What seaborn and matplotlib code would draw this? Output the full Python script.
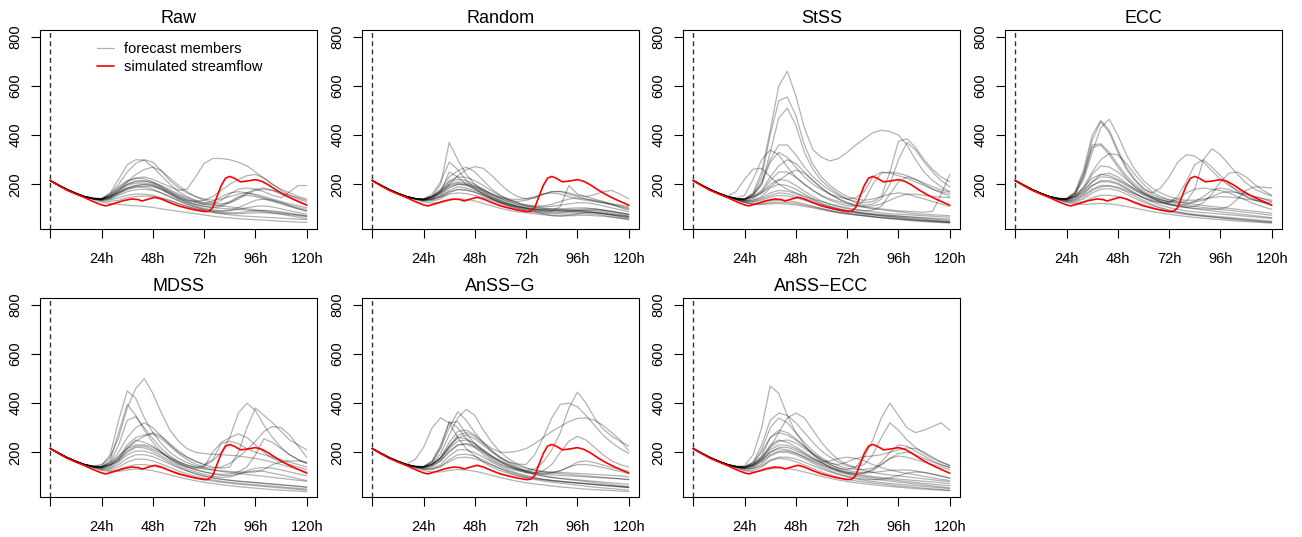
import pandas as pd
import seaborn as sns
import matplotlib.pyplot as plt
from matplotlib.lines import Line2D

# forecast lead time (hours), members sampled every 4 h
hours = list(range(0, 121, 4))

# simulated streamflow (same in every panel)
sim_hours = [0, 4, 8, 12, 16, 20, 24, 26, 30, 34, 38, 41, 43, 46, 49, 52, 56, 60, 64, 68,
             72, 74, 76, 78, 80, 82, 84, 86, 89, 92, 96, 99, 102, 106, 110, 114, 120]
sim_flow = [216, 194, 175, 160, 146, 130, 116, 112, 122, 133, 140, 138, 132, 140, 147, 140, 125, 112, 103, 95,
            89, 90, 105, 150, 195, 225, 232, 225, 210, 213, 219, 212, 198, 175, 155, 138, 115]

raw_members = [
    [215, 196, 178, 163, 150, 142, 140, 165, 220, 280, 300, 298, 270, 235, 200, 170, 150, 135, 125, 118, 112, 108, 104, 100, 96, 92, 88, 84, 80, 76, 72],
    [215, 196, 178, 163, 151, 144, 142, 160, 200, 250, 285, 300, 290, 255, 215, 185, 165, 150, 140, 135, 140, 150, 160, 165, 160, 150, 140, 130, 120, 112, 105],
    [215, 196, 178, 163, 150, 143, 140, 155, 185, 210, 225, 230, 220, 205, 190, 175, 180, 230, 285, 305, 305, 300, 290, 275, 250, 225, 200, 180, 165, 150, 140],
    [215, 196, 178, 163, 150, 143, 140, 150, 175, 210, 240, 260, 270, 255, 225, 195, 170, 150, 135, 125, 120, 125, 140, 160, 175, 180, 175, 165, 155, 145, 135],
    [215, 196, 178, 163, 150, 142, 138, 148, 170, 195, 205, 205, 200, 185, 165, 145, 130, 118, 110, 105, 110, 125, 145, 165, 180, 185, 175, 160, 145, 130, 118],
    [215, 196, 178, 163, 150, 142, 137, 145, 165, 185, 195, 200, 195, 180, 160, 140, 125, 112, 102, 96, 92, 95, 105, 120, 135, 140, 135, 125, 112, 100, 90],
    [215, 196, 178, 163, 150, 142, 136, 142, 160, 180, 190, 188, 180, 165, 148, 132, 118, 106, 96, 90, 86, 84, 85, 88, 92, 94, 92, 88, 82, 76, 70],
    [215, 196, 178, 163, 149, 138, 128, 122, 118, 115, 112, 110, 106, 100, 95, 90, 85, 80, 75, 70, 66, 63, 60, 58, 56, 54, 52, 50, 48, 46, 45],
    [215, 196, 178, 163, 150, 140, 132, 130, 135, 145, 150, 152, 150, 142, 132, 120, 110, 100, 92, 86, 80, 76, 72, 70, 68, 66, 64, 62, 60, 58, 56],
    [215, 196, 178, 163, 150, 142, 138, 150, 175, 200, 215, 215, 205, 190, 172, 155, 140, 128, 118, 112, 115, 130, 150, 155, 150, 140, 130, 120, 110, 100, 92],
    [215, 196, 178, 163, 150, 143, 142, 160, 190, 215, 225, 222, 210, 190, 170, 150, 135, 125, 118, 120, 135, 160, 180, 185, 180, 170, 155, 145, 170, 195, 195],
    [215, 196, 178, 163, 150, 141, 135, 140, 155, 170, 178, 180, 175, 165, 150, 135, 120, 108, 98, 92, 90, 92, 98, 105, 110, 112, 108, 100, 92, 85, 78],
    [215, 196, 178, 163, 150, 142, 140, 148, 165, 180, 188, 192, 190, 178, 160, 142, 128, 118, 110, 105, 102, 100, 98, 95, 92, 88, 84, 80, 76, 72, 68],
    [215, 196, 178, 163, 150, 142, 140, 155, 180, 200, 210, 212, 208, 195, 178, 160, 145, 132, 122, 130, 150, 165, 170, 165, 155, 145, 135, 125, 115, 105, 98],
    [215, 196, 178, 163, 150, 142, 139, 148, 168, 185, 195, 198, 195, 182, 165, 148, 135, 130, 135, 150, 175, 200, 220, 235, 240, 225, 200, 175, 155, 140, 128],
    [215, 196, 178, 163, 150, 141, 135, 136, 145, 155, 160, 160, 155, 145, 135, 122, 110, 100, 92, 86, 82, 80, 80, 82, 84, 84, 82, 78, 72, 66, 60],
]

random_members = [
    [215, 196, 178, 163, 150, 142, 138, 150, 200, 370, 300, 240, 200, 170, 150, 135, 122, 112, 105, 100, 97, 95, 93, 90, 88, 86, 84, 80, 76, 72, 68],
    [215, 196, 178, 163, 150, 142, 140, 160, 210, 290, 260, 215, 185, 160, 140, 125, 115, 108, 102, 98, 96, 95, 95, 96, 98, 100, 100, 96, 90, 84, 78],
    [215, 196, 178, 163, 150, 142, 138, 150, 180, 230, 255, 270, 250, 215, 180, 155, 138, 125, 115, 110, 108, 110, 115, 120, 125, 125, 120, 112, 104, 96, 88],
    [215, 196, 178, 163, 150, 142, 137, 145, 165, 200, 235, 260, 272, 265, 235, 200, 170, 150, 140, 145, 160, 170, 170, 160, 150, 140, 135, 128, 120, 112, 104],
    [215, 196, 178, 163, 150, 141, 135, 142, 170, 250, 230, 200, 180, 160, 142, 128, 118, 110, 104, 98, 95, 93, 92, 92, 93, 94, 92, 88, 82, 76, 70],
    [215, 196, 178, 163, 150, 142, 138, 148, 172, 210, 220, 215, 200, 180, 160, 145, 135, 130, 135, 145, 160, 170, 172, 165, 155, 150, 158, 170, 175, 160, 140],
    [215, 196, 178, 163, 150, 141, 136, 140, 155, 185, 200, 195, 182, 165, 148, 133, 120, 110, 102, 96, 92, 90, 110, 195, 160, 150, 140, 130, 118, 105, 95],
    [215, 196, 178, 163, 150, 141, 134, 136, 148, 175, 190, 185, 175, 160, 145, 130, 118, 108, 100, 94, 90, 88, 88, 90, 92, 95, 96, 94, 90, 84, 78],
    [215, 196, 178, 163, 149, 138, 128, 124, 125, 135, 140, 138, 132, 122, 112, 102, 94, 88, 84, 80, 76, 73, 72, 72, 73, 74, 72, 70, 66, 62, 58],
    [215, 196, 178, 163, 150, 140, 132, 132, 140, 165, 180, 178, 168, 152, 138, 124, 112, 102, 95, 90, 86, 84, 84, 86, 88, 88, 86, 82, 76, 70, 64],
    [215, 196, 178, 163, 150, 142, 139, 150, 170, 200, 210, 205, 195, 178, 160, 143, 130, 120, 112, 106, 102, 100, 100, 102, 104, 104, 100, 94, 88, 82, 76],
    [215, 196, 178, 163, 150, 142, 140, 152, 175, 215, 230, 228, 215, 195, 172, 152, 136, 124, 116, 112, 112, 118, 130, 140, 145, 140, 132, 124, 116, 108, 100],
    [215, 196, 178, 163, 150, 141, 136, 140, 152, 170, 178, 175, 168, 155, 140, 126, 114, 104, 96, 90, 80, 72, 70, 74, 80, 85, 84, 80, 74, 68, 62],
    [215, 196, 178, 163, 150, 142, 138, 146, 160, 190, 200, 198, 188, 172, 155, 140, 128, 118, 110, 105, 102, 100, 98, 96, 94, 90, 86, 82, 78, 74, 70],
    [215, 196, 178, 163, 150, 141, 135, 138, 148, 160, 165, 162, 155, 145, 133, 120, 108, 98, 90, 85, 82, 80, 79, 79, 80, 80, 78, 74, 68, 62, 56],
    [215, 196, 178, 163, 150, 142, 140, 150, 165, 195, 205, 200, 190, 175, 160, 148, 140, 138, 142, 150, 160, 165, 160, 150, 140, 135, 130, 125, 120, 115, 110],
]

stss_members = [
    [215, 196, 178, 163, 150, 142, 140, 165, 250, 420, 600, 660, 560, 430, 340, 310, 295, 305, 330, 360, 385, 410, 420, 415, 400, 360, 300, 250, 215, 190, 170],
    [215, 196, 178, 163, 150, 142, 138, 160, 230, 400, 540, 555, 480, 360, 280, 230, 195, 170, 150, 140, 135, 140, 150, 160, 165, 160, 150, 140, 130, 120, 110],
    [215, 196, 178, 163, 150, 142, 139, 155, 200, 330, 470, 510, 440, 330, 260, 215, 185, 160, 140, 125, 115, 120, 140, 200, 300, 370, 340, 290, 250, 215, 190],
    [215, 196, 178, 163, 150, 142, 140, 158, 210, 300, 360, 360, 320, 270, 230, 200, 175, 155, 140, 130, 125, 130, 150, 250, 375, 385, 350, 300, 260, 230, 210],
    [215, 196, 178, 163, 150, 145, 155, 220, 300, 340, 320, 270, 230, 200, 175, 155, 140, 130, 120, 112, 106, 100, 96, 92, 88, 84, 80, 78, 76, 74, 72],
    [215, 196, 178, 163, 152, 170, 220, 262, 265, 230, 200, 180, 165, 152, 140, 130, 120, 112, 104, 98, 93, 88, 84, 80, 78, 76, 74, 72, 70, 68, 66],
    [215, 196, 178, 163, 150, 142, 140, 155, 200, 290, 330, 310, 270, 230, 200, 178, 160, 148, 140, 145, 170, 230, 250, 245, 235, 225, 210, 195, 180, 170, 160],
    [215, 196, 178, 163, 150, 142, 140, 150, 175, 230, 275, 300, 285, 250, 215, 185, 160, 140, 125, 115, 108, 104, 100, 96, 92, 90, 88, 86, 90, 160, 240],
    [215, 196, 178, 163, 150, 142, 138, 148, 165, 190, 215, 240, 258, 245, 215, 185, 160, 140, 125, 115, 110, 112, 120, 135, 150, 160, 160, 155, 150, 148, 145],
    [215, 196, 178, 163, 150, 141, 134, 136, 150, 185, 200, 195, 180, 160, 140, 122, 110, 100, 92, 86, 80, 76, 72, 68, 64, 60, 57, 54, 51, 48, 45],
    [215, 196, 178, 163, 149, 138, 126, 118, 120, 125, 128, 126, 122, 115, 108, 100, 92, 85, 80, 76, 72, 68, 64, 61, 58, 55, 52, 50, 48, 46, 44],
    [215, 196, 178, 163, 149, 138, 128, 122, 125, 132, 136, 134, 128, 120, 111, 102, 94, 87, 82, 77, 73, 69, 66, 63, 60, 57, 55, 53, 51, 49, 47],
    [215, 196, 178, 163, 149, 137, 125, 118, 118, 120, 122, 120, 116, 110, 104, 97, 90, 84, 79, 75, 71, 67, 63, 60, 57, 54, 51, 48, 46, 44, 42],
    [215, 196, 178, 163, 150, 140, 132, 130, 140, 155, 165, 162, 152, 140, 128, 116, 106, 98, 92, 88, 84, 80, 77, 74, 71, 68, 65, 62, 59, 56, 53],
    [215, 196, 178, 163, 150, 141, 136, 142, 165, 200, 220, 215, 195, 172, 150, 132, 118, 108, 100, 95, 92, 95, 110, 160, 210, 230, 220, 200, 180, 165, 150],
    [215, 196, 178, 163, 150, 142, 138, 148, 170, 215, 250, 250, 228, 200, 175, 152, 135, 122, 112, 110, 135, 200, 245, 250, 245, 235, 220, 205, 190, 178, 168],
    [215, 196, 178, 163, 149, 139, 130, 128, 135, 148, 155, 152, 145, 135, 124, 113, 103, 95, 88, 83, 79, 75, 72, 69, 66, 63, 60, 57, 54, 51, 48],
    [215, 196, 178, 163, 150, 140, 133, 134, 145, 165, 175, 172, 162, 148, 134, 120, 109, 100, 93, 87, 82, 78, 75, 72, 70, 68, 66, 64, 62, 60, 58],
]

ecc_members = [
    [215, 196, 178, 163, 150, 143, 142, 170, 260, 400, 460, 420, 340, 270, 220, 185, 160, 145, 135, 128, 122, 118, 114, 110, 106, 102, 98, 94, 90, 86, 82],
    [215, 196, 178, 163, 150, 142, 140, 160, 220, 330, 430, 465, 400, 320, 260, 215, 185, 165, 150, 140, 135, 135, 140, 145, 150, 148, 145, 140, 135, 130, 125],
    [215, 196, 178, 163, 150, 143, 141, 165, 245, 380, 455, 410, 330, 260, 215, 180, 165, 185, 230, 290, 320, 315, 290, 255, 220, 195, 175, 160, 150, 140, 130],
    [215, 196, 178, 163, 150, 142, 140, 160, 230, 350, 360, 320, 270, 225, 190, 165, 148, 135, 128, 150, 210, 280, 300, 270, 235, 200, 170, 150, 135, 125, 115],
    [215, 196, 178, 163, 150, 142, 140, 152, 190, 250, 300, 325, 320, 285, 240, 200, 170, 150, 138, 132, 130, 180, 300, 345, 320, 280, 240, 205, 180, 165, 152],
    [215, 196, 178, 163, 150, 142, 138, 150, 180, 240, 275, 270, 250, 220, 190, 165, 145, 130, 120, 112, 108, 110, 125, 160, 210, 245, 250, 230, 200, 175, 155],
    [215, 196, 178, 163, 150, 142, 138, 148, 170, 210, 240, 245, 230, 205, 180, 160, 143, 130, 120, 112, 106, 102, 100, 98, 100, 110, 140, 175, 190, 188, 185],
    [215, 196, 178, 163, 150, 141, 135, 140, 160, 195, 215, 215, 205, 185, 165, 145, 128, 115, 105, 98, 92, 88, 85, 82, 79, 76, 73, 70, 67, 64, 61],
    [215, 196, 178, 163, 149, 139, 131, 130, 140, 165, 180, 182, 175, 160, 143, 127, 113, 102, 93, 86, 80, 75, 71, 67, 63, 59, 56, 53, 50, 47, 45],
    [215, 196, 178, 163, 149, 137, 126, 120, 118, 120, 122, 120, 116, 110, 103, 96, 89, 83, 78, 73, 69, 65, 62, 59, 56, 53, 50, 48, 46, 44, 42],
    [215, 196, 178, 163, 150, 140, 132, 134, 148, 175, 190, 192, 185, 170, 152, 134, 118, 105, 95, 88, 82, 78, 74, 71, 68, 65, 62, 59, 56, 53, 50],
    [215, 196, 178, 163, 150, 142, 138, 146, 165, 195, 210, 210, 200, 182, 162, 145, 132, 125, 125, 140, 165, 180, 185, 180, 175, 165, 150, 135, 120, 108, 98],
    [215, 196, 178, 163, 149, 138, 128, 125, 130, 145, 155, 155, 150, 140, 128, 116, 105, 96, 88, 82, 77, 73, 70, 67, 64, 61, 58, 55, 52, 49, 46],
    [215, 196, 178, 163, 150, 142, 140, 155, 185, 225, 240, 235, 220, 200, 180, 162, 148, 138, 130, 126, 125, 128, 135, 150, 165, 170, 165, 158, 150, 142, 135],
    [215, 196, 178, 163, 150, 141, 134, 138, 155, 180, 195, 195, 188, 175, 160, 146, 134, 124, 116, 110, 105, 100, 96, 92, 88, 84, 80, 76, 72, 68, 64],
    [215, 196, 178, 163, 150, 142, 139, 150, 175, 210, 230, 228, 215, 195, 175, 156, 140, 128, 118, 114, 118, 130, 150, 175, 185, 178, 165, 150, 138, 126, 115],
    [215, 196, 178, 163, 150, 142, 140, 162, 240, 360, 365, 330, 280, 235, 200, 172, 152, 138, 128, 120, 114, 110, 106, 102, 98, 94, 90, 86, 82, 78, 74],
]

mdss_members = [
    [215, 196, 178, 163, 150, 145, 150, 180, 260, 380, 460, 500, 440, 360, 290, 245, 215, 200, 195, 192, 190, 188, 185, 180, 175, 168, 160, 150, 140, 130, 120],
    [215, 196, 178, 163, 150, 143, 145, 190, 330, 450, 420, 340, 280, 235, 200, 175, 158, 145, 135, 128, 122, 118, 114, 110, 106, 102, 98, 94, 90, 86, 82],
    [215, 196, 178, 163, 150, 142, 141, 170, 280, 395, 350, 290, 240, 200, 172, 152, 140, 135, 140, 200, 240, 260, 275, 260, 230, 200, 175, 160, 150, 140, 130],
    [215, 196, 178, 163, 150, 142, 140, 160, 230, 330, 345, 300, 255, 215, 185, 162, 148, 140, 145, 165, 200, 260, 360, 400, 370, 310, 260, 220, 190, 170, 155],
    [215, 196, 178, 163, 150, 142, 140, 155, 200, 260, 300, 320, 300, 265, 230, 200, 180, 165, 150, 140, 135, 140, 200, 300, 380, 350, 320, 285, 250, 230, 210],
    [215, 196, 178, 163, 150, 142, 139, 150, 180, 230, 260, 270, 275, 255, 225, 195, 170, 152, 140, 135, 140, 155, 180, 210, 245, 285, 305, 300, 270, 225, 180],
    [215, 196, 178, 163, 150, 142, 140, 150, 175, 215, 245, 265, 280, 265, 235, 205, 180, 162, 150, 170, 235, 245, 235, 215, 200, 190, 180, 170, 160, 150, 140],
    [215, 196, 178, 163, 150, 142, 138, 147, 170, 220, 250, 240, 225, 200, 175, 155, 140, 128, 120, 114, 110, 112, 120, 140, 190, 255, 240, 215, 190, 170, 155],
    [215, 196, 178, 163, 150, 141, 135, 140, 160, 190, 205, 205, 195, 178, 158, 140, 125, 112, 102, 95, 90, 86, 83, 80, 77, 74, 71, 68, 65, 62, 58],
    [215, 196, 178, 163, 149, 138, 127, 122, 122, 128, 132, 130, 125, 117, 108, 99, 91, 84, 78, 73, 68, 64, 60, 57, 54, 51, 48, 46, 44, 42, 40],
    [215, 196, 178, 163, 150, 140, 132, 132, 140, 160, 172, 172, 165, 152, 138, 124, 112, 102, 94, 88, 82, 78, 74, 71, 68, 65, 62, 59, 56, 53, 50],
    [215, 196, 178, 163, 150, 142, 138, 146, 165, 200, 220, 218, 205, 185, 165, 147, 132, 120, 110, 103, 98, 100, 110, 120, 125, 122, 115, 108, 100, 92, 85],
    [215, 196, 178, 163, 149, 138, 129, 126, 130, 142, 150, 150, 145, 136, 126, 115, 105, 96, 89, 83, 78, 74, 70, 67, 64, 61, 58, 55, 52, 49, 46],
    [215, 196, 178, 163, 150, 143, 141, 158, 185, 215, 230, 230, 220, 200, 180, 162, 148, 138, 132, 128, 125, 122, 120, 118, 120, 130, 150, 160, 165, 165, 160],
    [215, 196, 178, 163, 150, 141, 134, 136, 150, 175, 190, 190, 182, 168, 152, 137, 124, 113, 104, 97, 91, 86, 82, 79, 76, 73, 70, 67, 64, 61, 58],
    [215, 196, 178, 163, 150, 142, 139, 148, 170, 205, 225, 225, 212, 195, 175, 158, 143, 130, 120, 112, 106, 105, 112, 125, 135, 138, 135, 128, 120, 112, 104],
]

anss_g_members = [
    [215, 196, 178, 163, 152, 170, 220, 300, 340, 320, 260, 215, 185, 160, 140, 125, 113, 104, 97, 92, 88, 85, 82, 79, 76, 73, 70, 67, 64, 61, 58],
    [215, 196, 178, 163, 150, 143, 142, 165, 230, 320, 325, 275, 235, 200, 172, 152, 138, 130, 125, 132, 160, 210, 280, 380, 445, 400, 340, 295, 265, 245, 225],
    [215, 196, 178, 163, 150, 143, 141, 160, 215, 300, 365, 330, 280, 240, 205, 178, 160, 152, 150, 190, 260, 340, 395, 400, 385, 350, 310, 270, 240, 215, 195],
    [215, 196, 178, 163, 150, 142, 140, 155, 195, 270, 340, 375, 350, 290, 240, 200, 172, 152, 138, 128, 122, 120, 118, 116, 114, 112, 110, 108, 106, 104, 100],
    [215, 196, 178, 163, 150, 142, 140, 152, 180, 240, 285, 290, 270, 240, 215, 200, 200, 205, 215, 235, 260, 285, 305, 325, 338, 340, 330, 310, 280, 250, 205],
    [215, 196, 178, 163, 150, 142, 139, 150, 175, 220, 260, 270, 255, 228, 200, 175, 155, 138, 122, 115, 125, 150, 200, 245, 265, 250, 220, 190, 165, 150, 140],
    [215, 196, 178, 163, 150, 142, 138, 148, 172, 215, 245, 250, 235, 210, 185, 165, 148, 135, 125, 118, 115, 118, 125, 140, 160, 165, 158, 148, 138, 130, 122],
    [215, 196, 178, 163, 150, 141, 136, 142, 165, 205, 230, 232, 220, 200, 178, 160, 144, 131, 120, 111, 104, 98, 93, 89, 85, 81, 77, 73, 69, 65, 61],
    [215, 196, 178, 163, 150, 142, 140, 150, 178, 225, 260, 255, 235, 208, 182, 160, 142, 128, 117, 109, 103, 98, 94, 91, 88, 85, 82, 79, 76, 73, 70],
    [215, 196, 178, 163, 149, 139, 131, 130, 142, 170, 190, 192, 184, 168, 150, 133, 118, 106, 96, 89, 83, 78, 74, 70, 66, 62, 58, 55, 52, 49, 46],
    [215, 196, 178, 163, 149, 137, 126, 120, 120, 126, 130, 128, 123, 115, 106, 97, 89, 82, 76, 71, 67, 63, 59, 56, 53, 50, 48, 46, 44, 42, 40],
    [215, 196, 178, 163, 150, 141, 134, 136, 150, 185, 210, 210, 198, 180, 160, 142, 127, 115, 105, 97, 91, 86, 82, 78, 75, 72, 69, 66, 63, 60, 57],
    [215, 196, 178, 163, 150, 142, 138, 146, 165, 200, 230, 236, 226, 206, 184, 164, 148, 134, 124, 116, 112, 115, 125, 140, 150, 150, 145, 138, 130, 122, 115],
    [215, 196, 178, 163, 150, 140, 132, 132, 142, 162, 178, 180, 174, 162, 148, 134, 122, 111, 102, 95, 89, 84, 80, 77, 74, 71, 68, 65, 62, 59, 56],
    [215, 196, 178, 163, 150, 142, 140, 152, 178, 225, 270, 280, 265, 235, 205, 180, 160, 145, 134, 126, 120, 116, 113, 110, 107, 104, 101, 98, 95, 92, 88],
    [215, 196, 178, 163, 150, 143, 142, 162, 220, 325, 300, 255, 220, 190, 165, 148, 135, 125, 118, 113, 110, 108, 106, 104, 102, 100, 98, 96, 94, 92, 90],
]

anss_ecc_members = [
    [215, 196, 178, 163, 150, 143, 145, 190, 300, 470, 440, 350, 280, 230, 190, 160, 140, 125, 115, 108, 102, 97, 93, 89, 85, 81, 77, 73, 70, 67, 64],
    [215, 196, 178, 163, 150, 142, 140, 158, 200, 260, 290, 280, 255, 225, 195, 170, 150, 135, 130, 140, 180, 250, 340, 400, 350, 300, 280, 290, 305, 320, 290],
    [215, 196, 178, 163, 150, 142, 141, 160, 230, 330, 360, 350, 320, 280, 240, 205, 180, 160, 145, 140, 150, 190, 260, 320, 290, 250, 220, 195, 175, 160, 148],
    [215, 196, 178, 163, 150, 142, 139, 150, 175, 220, 280, 340, 360, 340, 290, 240, 200, 170, 150, 135, 125, 118, 112, 108, 104, 100, 96, 92, 88, 84, 80],
    [215, 196, 178, 163, 150, 142, 140, 155, 210, 300, 340, 320, 280, 240, 205, 178, 158, 145, 135, 130, 130, 135, 150, 175, 195, 200, 190, 175, 160, 148, 138],
    [215, 196, 178, 163, 150, 142, 138, 150, 185, 260, 280, 270, 250, 222, 195, 172, 155, 150, 160, 175, 182, 185, 190, 200, 210, 218, 215, 200, 180, 160, 145],
    [215, 196, 178, 163, 150, 141, 136, 145, 175, 230, 250, 240, 222, 200, 178, 158, 142, 130, 120, 112, 106, 101, 97, 94, 91, 88, 85, 82, 79, 76, 72],
    [215, 196, 178, 163, 150, 141, 134, 140, 165, 200, 215, 210, 198, 180, 162, 146, 132, 120, 110, 102, 96, 91, 87, 83, 79, 75, 71, 67, 63, 59, 55],
    [215, 196, 178, 163, 149, 138, 128, 126, 140, 165, 175, 172, 162, 148, 134, 120, 108, 98, 90, 84, 79, 75, 71, 67, 63, 60, 57, 54, 51, 48, 45],
    [215, 196, 178, 163, 149, 137, 125, 120, 124, 132, 136, 134, 128, 120, 111, 102, 94, 87, 81, 76, 72, 68, 64, 61, 58, 55, 52, 50, 48, 46, 44],
    [215, 196, 178, 163, 150, 140, 132, 134, 152, 185, 200, 200, 190, 174, 156, 139, 124, 112, 102, 95, 90, 88, 90, 96, 105, 115, 120, 118, 112, 104, 96],
    [215, 196, 178, 163, 150, 142, 138, 146, 170, 210, 230, 228, 215, 195, 174, 155, 138, 124, 114, 110, 115, 130, 160, 200, 230, 225, 205, 185, 165, 150, 140],
    [215, 196, 178, 163, 150, 140, 133, 134, 145, 168, 180, 180, 173, 160, 146, 132, 120, 109, 100, 92, 86, 81, 77, 73, 70, 67, 64, 61, 58, 55, 52],
    [215, 196, 178, 163, 150, 142, 140, 152, 180, 220, 245, 250, 238, 215, 190, 168, 150, 136, 126, 120, 118, 125, 150, 175, 185, 180, 170, 160, 150, 140, 130],
    [215, 196, 178, 163, 150, 141, 136, 142, 160, 190, 205, 205, 196, 182, 166, 150, 137, 126, 118, 115, 115, 118, 122, 126, 128, 128, 124, 118, 110, 102, 94],
    [215, 196, 178, 163, 150, 142, 139, 148, 168, 200, 220, 220, 208, 190, 172, 160, 165, 175, 180, 175, 165, 150, 138, 128, 120, 114, 108, 102, 96, 90, 85],
]

panel_names = ["Raw", "Random", "StSS", "ECC", "MDSS", "AnSS\u2212G", "AnSS\u2212ECC"]
panel_members = [raw_members, random_members, stss_members, ecc_members,
                 mdss_members, anss_g_members, anss_ecc_members]

xtick_pos = [0, 24, 48, 72, 96, 120]
xtick_labels = ["", "24h", "48h", "72h", "96h", "120h"]
ytick_pos = [200, 400, 600, 800]

sns.set_theme(style="ticks", rc={"axes.edgecolor": "black", "axes.linewidth": 0.8,
                                 "xtick.bottom": True, "ytick.left": True,
                                 "text.color": "black", "axes.labelcolor": "black"})
plt.rcParams["font.family"] = ["Liberation Sans", "DejaVu Sans"]

MEMBER_ALPHA = 0.3


def members_frame(members):
    rows = []
    for m, flows in enumerate(members):
        for h, q in zip(hours, flows):
            rows.append((m, h, q))
    return pd.DataFrame(rows, columns=["member", "hour", "flow"])


fig = plt.figure(figsize=(13.02, 5.37), dpi=100)
lefts = [40, 362, 683, 1005]
tops = [30, 298]
w_px, h_px = 277, 199

for i, (name, members) in enumerate(zip(panel_names, panel_members)):
    row, col = divmod(i, 4)
    ax = fig.add_axes([lefts[col] / 1302, 1 - (tops[row] + h_px) / 537, w_px / 1302, h_px / 537])
    df = members_frame(members)
    sns.lineplot(data=df, x="hour", y="flow", units="member", estimator=None,
                 color="black", alpha=MEMBER_ALPHA, linewidth=0.9, ax=ax, legend=False)
    sns.lineplot(x=sim_hours, y=sim_flow, color="red", linewidth=1.2, ax=ax)
    ax.axvline(0, color="#333333", linestyle=(0, (3.5, 2.5)), linewidth=1.0)

    ax.set_xlim(-4.8, 124.8)
    ax.set_ylim(18, 828)
    ax.set_xticks(xtick_pos)
    ax.set_xticklabels(xtick_labels)
    ax.set_yticks(ytick_pos)
    ax.set_yticklabels([str(v) for v in ytick_pos], rotation=90, va="center")
    ax.tick_params(axis="both", direction="out", length=6.5, width=0.8,
                   color="black", labelsize=10.5, labelcolor="black")
    ax.tick_params(axis="x", pad=10)
    ax.tick_params(axis="y", pad=6)
    for side in ["top", "right", "left", "bottom"]:
        ax.spines[side].set_visible(True)
    ax.set(xlabel="", ylabel="")
    ax.set_title(name, fontsize=13, pad=5, color="black")

    if i == 0:
        handles = [Line2D([], [], color="black", alpha=MEMBER_ALPHA, linewidth=0.9),
                   Line2D([], [], color="red", linewidth=1.2)]
        ax.legend(handles, ["forecast members", "simulated streamflow"],
                  loc="upper left", bbox_to_anchor=(0.205, 0.94), frameon=False,
                  fontsize=10.5, handlelength=1.2, handletextpad=0.7,
                  labelspacing=0.3, borderaxespad=0, borderpad=0)

fig.savefig("out.png", dpi=100)
